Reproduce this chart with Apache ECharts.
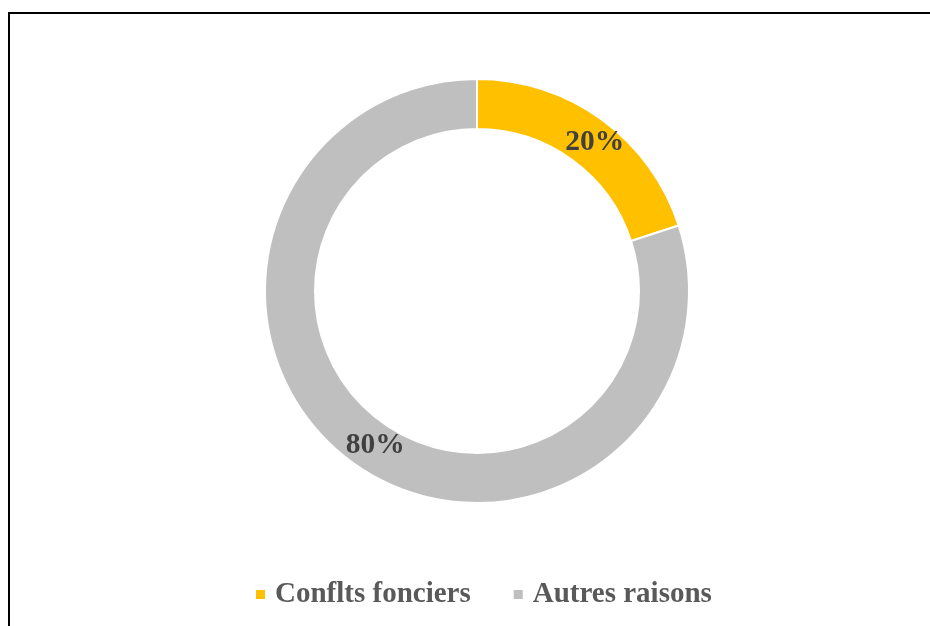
<!DOCTYPE html>
<html>
<head>
<meta charset="utf-8">
<script src="https://cdn.jsdelivr.net/npm/echarts@6/dist/echarts.min.js"></script>
<style>
  html, body { margin: 0; padding: 0; background: #ffffff; }
  #chart { width: 930px; height: 626px; }
</style>
</head>
<body>
<div id="chart"></div>
<script>
// Reasons: land conflicts vs. other reasons
const categories = ['Conflts fonciers', 'Autres raisons'];
const shares = [20, 80];
const colors = ['#FFC000', '#BFBFBF'];
const labelOffsets = [[6, 5], [10, 1]];

const chart = echarts.init(document.getElementById('chart'), null, { renderer: 'canvas' });

const serif = '"Liberation Serif", "Times New Roman", serif';

chart.setOption({
  backgroundColor: '#ffffff',
  animation: false,
  color: colors,
  graphic: [{
    type: 'rect',
    shape: { x: 9, y: 13, width: 940, height: 640 },
    style: { fill: 'none', stroke: '#000000', lineWidth: 2 },
    silent: true
  }],
  legend: {
    data: categories,
    bottom: 12,
    left: 249,
    icon: 'rect',
    itemWidth: 11,
    itemHeight: 11,
    itemGap: 41,
    textStyle: {
      fontFamily: serif,
      fontWeight: 'bold',
      fontSize: 29,
      color: '#595959',
      padding: [0, 0, 0, 4]
    }
  },
  series: [{
    type: 'pie',
    center: [477, 291],
    radius: [162, 212],
    startAngle: 90,
    clockwise: true,
    avoidLabelOverlap: false,
    itemStyle: { borderColor: '#ffffff', borderWidth: 2 },
    label: {
      show: true,
      position: 'inside',
      formatter: p => p.value + '%',
      fontFamily: serif,
      fontWeight: 'bold',
      fontSize: 29.5,
      color: '#404040'
    },
    labelLine: { show: false },
    emphasis: { disabled: true },
    data: categories.map((name, i) => ({
      name,
      value: shares[i],
      label: { offset: labelOffsets[i] }
    }))
  }]
});
</script>
</body>
</html>
